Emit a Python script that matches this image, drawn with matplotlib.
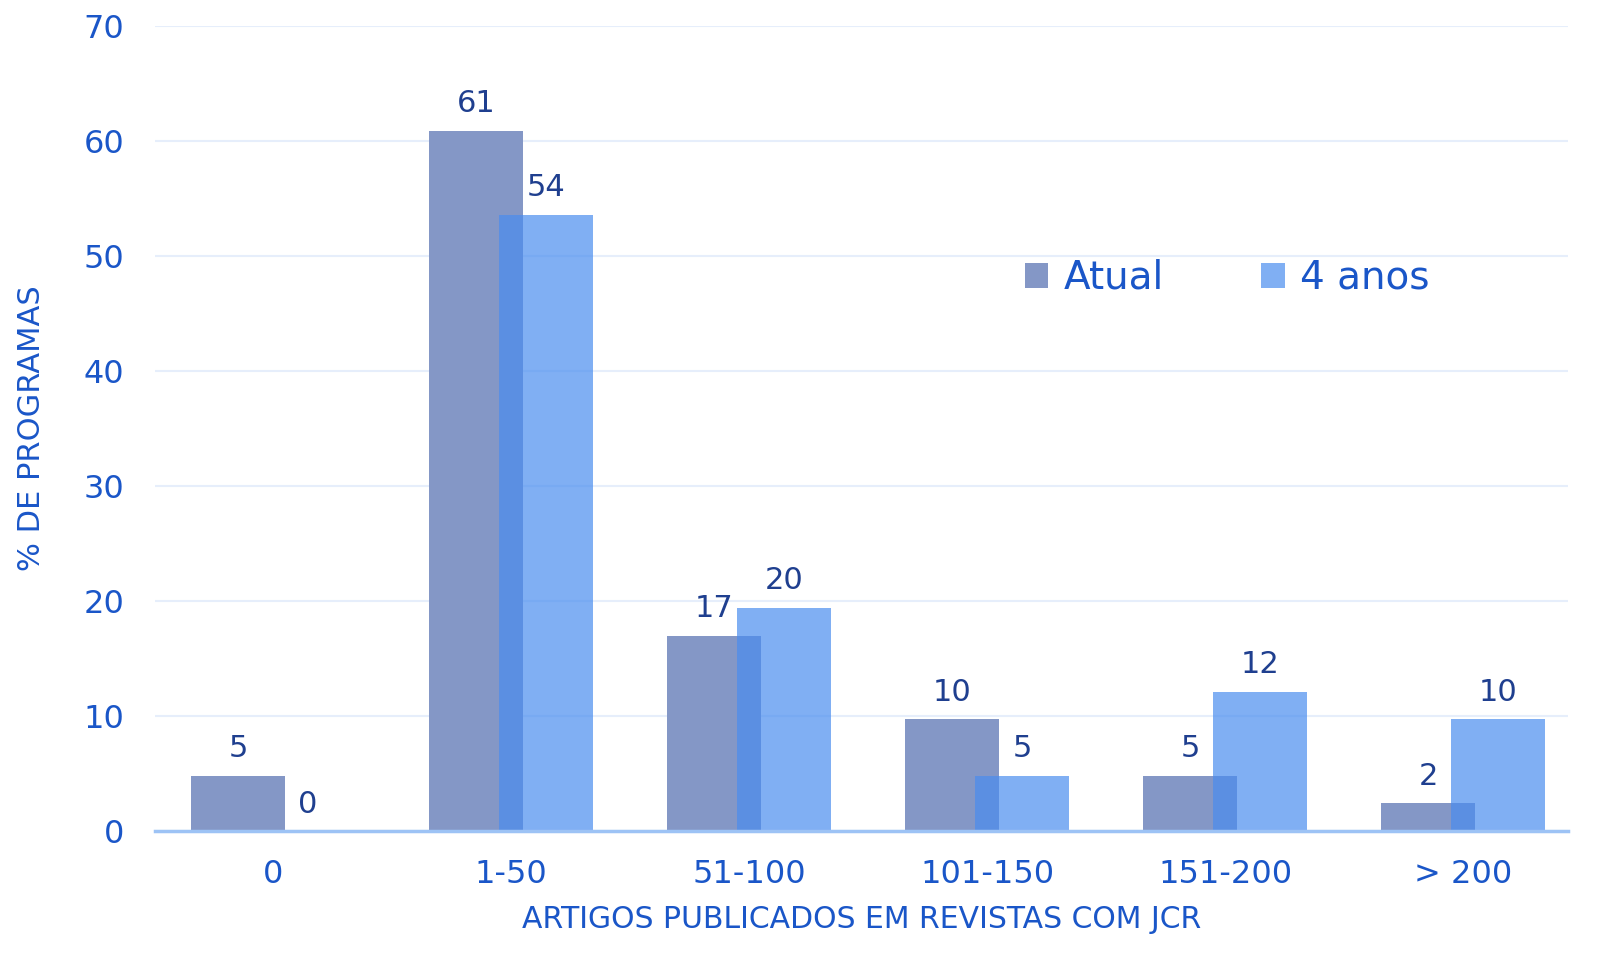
import numpy as np
import matplotlib.pyplot as plt

# data
categorias = ['0', '1-50', '51-100', '101-150', '151-200', '> 200']
atual = [4.8, 60.9, 17.0, 9.7, 4.8, 2.4]
quatro_anos = [0.0, 53.6, 19.4, 4.8, 12.1, 9.7]
rotulos_atual = ['5', '61', '17', '10', '5', '2']
rotulos_4anos = ['0', '54', '20', '5', '12', '10']

plt.rcParams['font.family'] = ['DejaVu Sans']
tick_color = '#1a56c8'
val_color = '#1f3f8f'

fig = plt.figure(figsize=(16.19, 9.63), dpi=100)
ax = fig.add_axes([155 / 1619, 1 - 831 / 963, (1568 - 155) / 1619, 805 / 963])

x = np.arange(len(categorias))
w = 0.395
off = 0.147
b1 = ax.bar(x - off, atual, w, color='#8497c6', label='Atual', zorder=2)
b2 = ax.bar(x + off, quatro_anos, w, color='#4a8def', alpha=0.7, label='4 anos', zorder=3)

for rect, txt in zip(b1, rotulos_atual):
    ax.annotate(txt, (rect.get_x() + rect.get_width() / 2, rect.get_height()),
                xytext=(0, 9), textcoords='offset points', ha='center', va='bottom',
                fontsize=22, color=val_color)
for rect, txt in zip(b2, rotulos_4anos):
    ax.annotate(txt, (rect.get_x() + rect.get_width() / 2, rect.get_height()),
                xytext=(0, 9), textcoords='offset points', ha='center', va='bottom',
                fontsize=22, color=val_color)

ax.set_ylim(0, 70)
ax.set_xlim(-0.496, 5.44)
ax.set_yticks(range(0, 71, 10))
ax.set_xticks(x)
ax.set_xticklabels(categorias)
ax.tick_params(axis='both', length=0, labelsize=23, colors=tick_color)
ax.tick_params(axis='y', pad=22)
ax.tick_params(axis='x', pad=20)
ax.grid(axis='y', color='#e6eefb', linewidth=1.5, zorder=0)
ax.set_axisbelow(True)
for s in ['top', 'right', 'left']:
    ax.spines[s].set_visible(False)
ax.spines['bottom'].set_color('#9dc3f5')
ax.spines['bottom'].set_linewidth(2.5)
ax.spines['bottom'].set_zorder(4)

ax.set_xlabel('ARTIGOS PUBLICADOS EM REVISTAS COM JCR', fontsize=21.5, color=tick_color, labelpad=11)
ax.set_ylabel('% DE PROGRAMAS', fontsize=22, color=tick_color, labelpad=27)

leg = ax.legend(loc='center', bbox_to_anchor=(0.759, 0.687), ncol=2, frameon=False,
                fontsize=28, handlelength=0.6, handleheight=0.6, handletextpad=0.4,
                columnspacing=2.5)
for t in leg.get_texts():
    t.set_color(tick_color)

fig.savefig('out.png', dpi=100)
